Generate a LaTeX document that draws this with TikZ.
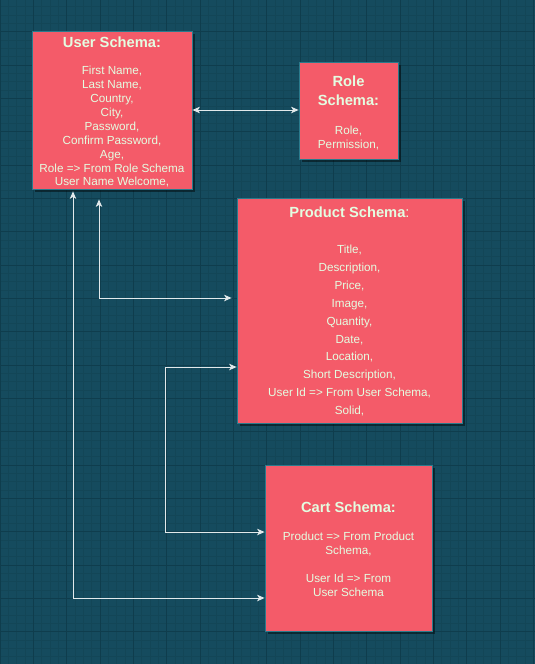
\documentclass[tikz,border=0pt]{standalone}
\usepackage{fontspec}
\setmainfont{Liberation Sans}
\usetikzlibrary{arrows.meta,shadows}
\definecolor{bg}{HTML}{154B5E}
\definecolor{minorg}{HTML}{134657}
\definecolor{majorg}{HTML}{0F3D4D}
\definecolor{boxfill}{HTML}{F45B69}
\definecolor{boxline}{HTML}{2A7A8C}
\definecolor{txt}{HTML}{E4FDE1}
\definecolor{connline}{HTML}{E2E9EB}
\begin{document}
\begin{tikzpicture}[x=1pt,y=-1pt,
  minorgrid/.style={draw=minorg,line width=0.5pt},
  majorgrid/.style={draw=majorg,line width=0.9pt},
  box/.style={draw=boxline,line width=0.8pt,fill=boxfill,inner sep=0pt,
    drop shadow={shadow xshift=2.5pt,shadow yshift=-2.5pt,opacity=0.45,fill=black}},
  boxtext/.style={text=txt,inner sep=0pt,align=center,anchor=north},
  myarrow/.tip={Stealth[length=7.5pt,width=6.5pt,inset=2pt]},
  conn/.style={draw=connline,line width=1pt,myarrow-myarrow}]
\useasboundingbox (0,0) rectangle (535,664);
\fill[bg] (0,0) rectangle (535,664);
% grid
\foreach \i in {0,...,64} { \draw[minorgrid] (\i*8.3333,0) -- (\i*8.3333,664); }
\foreach \i in {0,...,80} { \draw[minorgrid] (0,\i*8.3333-1.667) -- (535,\i*8.3333-1.667); }
\foreach \i in {0,...,16} { \draw[majorgrid] (\i*33.3333,0) -- (\i*33.3333,664); }
\foreach \i in {0,...,20} { \draw[majorgrid] (0,\i*33.3333-1.667) -- (535,\i*33.3333-1.667); }
% boxes
\node[box,minimum width=160pt,minimum height=158pt] (user) at (112,110) {};
\node[box,minimum width=99pt,minimum height=97pt] (role) at (348.5,110.5) {};
\node[box,minimum width=225pt,minimum height=225pt] (product) at (349.5,310.5) {};
\node[box,minimum width=167pt,minimum height=166pt] (cart) at (348.5,548) {};
% texts
\node[boxtext,font=\fontsize{11.7}{13.9}\selectfont] (usertxt) at (112,35.5)
  {\rule{0pt}{12pt}{\fontsize{14.7}{13.9}\selectfont\bfseries User Schema:}\\[13.1pt]
   First Name,\\Last Name,\\Country,\\City,\\Password,\\Confirm Password,\\Age,\\
   Role => From Role Schema\\User Name Welcome,};
\node[boxtext,font=\fontsize{11.7}{14}\selectfont] (roletxt) at (348.5,74)
  {\rule{0pt}{12pt}{\fontsize{14.7}{14}\selectfont\bfseries Role}\\[5pt]
   {\fontsize{14.7}{14}\selectfont\bfseries Schema:}\\[15pt]
   Role,\\Permission,};
\node[boxtext,font=\fontsize{11.7}{17.97}\selectfont] (producttxt) at (349.5,205)
  {\rule{0pt}{12pt}{\fontsize{14.7}{17.97}\selectfont\bfseries Product Schema}{\fontsize{14.7}{17.97}\selectfont:}\\[18pt]
   Title,\\Description,\\Price,\\Image,\\Quantity,\\Date,\\Location,\\Short Description,\\
   User Id => From User Schema,\\Solid,};
\node[boxtext,font=\fontsize{11.7}{14}\selectfont] (carttxt) at (348.5,500.3)
  {\rule{0pt}{12pt}{\fontsize{14.7}{14}\selectfont\bfseries Cart Schema:}\\[14pt]
   Product => From Product\\Schema,\\[14pt]
   User Id => From\\User Schema};
% connectors
\draw[conn] (user.east) -- (user.east -| role.west);
\draw[conn] ([xshift=-13pt,yshift=-10pt]user.south) |- ([xshift=-5pt,yshift=12.5pt]product.west);
\draw[conn] ([xshift=-39pt,yshift=-2pt]user.south) |- ([yshift=-50pt]cart.west);
\draw[conn] ([yshift=-56.5pt]product.west) -- ++(-71,0) |- ([yshift=16pt]cart.west);
\end{tikzpicture}
\end{document}
